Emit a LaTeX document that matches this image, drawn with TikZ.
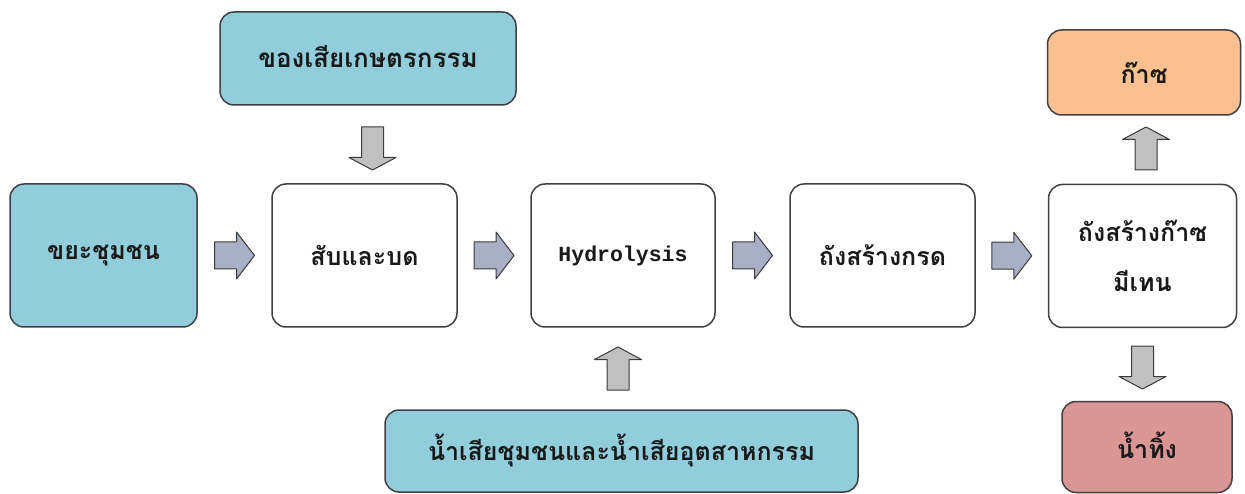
\documentclass[tikz,border=0pt]{standalone}
\usepackage{fontspec}
\usetikzlibrary{calc}
\newfontfamily\thai[Script=Thai]{Loma}
\newfontfamily\hyd{Liberation Mono}
\definecolor{boxblue}{HTML}{92CDDC}
\definecolor{boxorange}{HTML}{FAC090}
\definecolor{boxpink}{HTML}{D99694}
\definecolor{boxline}{HTML}{404040}
\definecolor{harrowfill}{HTML}{A9AFC5}
\definecolor{varrowfill}{HTML}{C0C0C0}
\definecolor{arrowline}{HTML}{3A3A3A}
\begin{document}
\begin{tikzpicture}[x=1pt,y=-1pt,
  box/.style={draw=boxline, line width=1.5pt, rounded corners=14pt, fill=white,
    font=\thai\bfseries\fontsize{25}{50}\selectfont, text=black!90, inner sep=0pt, align=center},
  harrow/.style={draw=arrowline, fill=harrowfill, line width=1pt, line join=round},
  varrow/.style={draw=arrowline, fill=varrowfill, line width=1pt, line join=round}
]
\useasboundingbox (0,0) rectangle (1245,494);
% main row
\node[box, fill=boxblue, minimum width=187pt, minimum height=143pt] (n1) at (103.5,255.5) {\raisebox{-2pt}{ขยะชุมชน}};
\node[box, minimum width=185pt, minimum height=143pt] (n2) at (364.5,255.5) {สับและบด};
\node[box, minimum width=184pt, minimum height=143pt, font=\hyd\bfseries\fontsize{21.5}{26}\selectfont] (n3) at (623,255.5) {\raisebox{-2pt}{Hydrolysis}};
\node[box, minimum width=185pt, minimum height=143pt] (n4) at (882.5,255.5) {ถังสร้างกรด};
\node[box, minimum width=188pt, minimum height=143pt] (n5) at (1142.5,256) {ถังสร้างก๊าซ\\มีเทน};
% inputs / outputs
\node[box, fill=boxblue, minimum width=296pt, minimum height=93pt] (agri) at (368,58.5) {\raisebox{5pt}{\fontsize{26}{50}\selectfont ของเสียเกษตรกรรม}};
\node[box, fill=boxblue, minimum width=473pt, minimum height=82pt] (waste) at (621.5,451) {น้ำเสียชุมชนและน้ำเสียอุตสาหกรรม};
\node[box, fill=boxorange, minimum width=193pt, minimum height=85pt] (gas) at (1144,72.5) {ก๊าซ};
\node[box, fill=boxpink, minimum width=170pt, minimum height=91pt] (effl) at (1147,447) {\raisebox{3pt}{น้ำทิ้ง}};
% arrow centres
\coordinate (a12) at ($(n1.east)!0.5!(n2.west)$);
\coordinate (a23) at ($(n2.east)!0.5!(n3.west)$);
\coordinate (a34) at ($(n3.east)!0.5!(n4.west)$);
\coordinate (a45) at ($(n4.east)!0.5!(n5.west)$);
\coordinate (aagri) at (372.5,148.5);
\coordinate (awaste) at (618,368.5);
\coordinate (agas) at (1146,148.5);
\coordinate (aeffl) at (1142.5,367.5);
% horizontal block arrows
\foreach \c in {a12,a23,a34,a45}
  \draw[harrow, shift={(\c)}] (-20,-13.5) -- (2,-13.5) -- (2,-23.5) -- (20,0)
     -- (2,23.5) -- (2,13.5) -- (-20,13.5) -- cycle;
% vertical block arrows: up
\foreach \c in {awaste,agas}
  \draw[varrow, shift={(\c)}] (0,-21.5) -- (23.5,-9) -- (11,-9) -- (11,21.5)
     -- (-11,21.5) -- (-11,-9) -- (-23.5,-9) -- cycle;
% down
\foreach \c in {aagri,aeffl}
  \draw[varrow, shift={(\c)}] (0,21.5) -- (23.5,9) -- (11,9) -- (11,-21.5)
     -- (-11,-21.5) -- (-11,9) -- (-23.5,9) -- cycle;
\end{tikzpicture}
\end{document}
